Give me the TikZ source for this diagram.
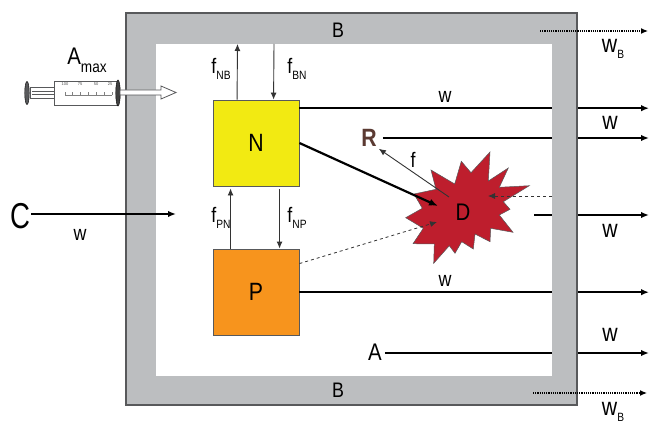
\documentclass[tikz,border=0pt]{standalone}
\usepackage{fontspec}
\setmainfont{Liberation Sans}
\usetikzlibrary{arrows.meta,positioning,calc}
\definecolor{wallgray}{HTML}{BCBEC0}
\definecolor{edgegray}{HTML}{58595B}
\definecolor{nyellow}{HTML}{F2EA12}
\definecolor{porange}{HTML}{F7941D}
\definecolor{dred}{HTML}{BE1E2D}
\definecolor{rbrown}{HTML}{5B3A32}
\newcommand{\sublabel}[2]{#1\raisebox{-6pt}{\fontsize{12}{12}\selectfont #2}}

\begin{document}
\begin{tikzpicture}[
  x=1pt, y=-1pt,
  pool/.style={rectangle, draw=edgegray, line width=0.9pt, minimum size=86pt, inner sep=0pt,
    font=\fontsize{25}{27}\selectfont},
  lab/.style={font=\fontsize{21}{23}\selectfont, inner sep=0pt, xscale=0.85, transform shape},
  flab/.style={lab, font=\fontsize{21}{23}\selectfont},
  wlab/.style={lab, font=\fontsize{21}{23}\selectfont},
  wbig/.style={lab, font=\fontsize{25}{27}\selectfont},
  flow/.style={draw=black, line width=1.8pt, -{Latex[length=8pt,width=6.5pt]}},
  plain/.style={draw=black, line width=1.8pt},
  thin flow/.style={draw=black!80, line width=0.9pt, -{Latex[length=7pt,width=6pt]}},
  dash flow/.style={draw=black!80, line width=0.8pt, dashed, -{Latex[length=7pt,width=6pt]}},
  dot flow/.style={draw=black, line width=1.2pt, densely dotted, -{Latex[length=7pt,width=6pt]}}
]
  \useasboundingbox (0,0) rectangle (650,425);

  % body
  \filldraw[draw=edgegray, line width=1.4pt, fill=wallgray] (126,13) rectangle (577,405);
  \fill[white] (156,44) rectangle (552,376);

  \node[pool, fill=nyellow] (N) at (256,143) {\scalebox{0.85}[1]{N}};
  \node[pool, fill=porange] (P) at (256,292) {\scalebox{0.85}[1]{P}};

  % burst
  \filldraw[draw=edgegray, line width=0.5pt, fill=dred]
    (490,152) -- (488.3,181) -- (508.3,168) -- (499.3,187.3) -- (529.3,185.7) -- (503.3,201.7)
    -- (510,209.3) -- (499.3,215) -- (513,232.3) -- (490.7,228.3) -- (490,241.7) -- (475,234)
    -- (473.3,249) -- (461.7,241.7) -- (455,253.3) -- (449.3,245.7) -- (433.7,263.3) -- (434.3,244)
    -- (413,243.7) -- (423.3,228.3) -- (405.7,217.7) -- (422.3,208.3) -- (414,194) -- (436,189.3)
    -- (431,170) -- (454.7,184) -- (461.3,161.3) -- (471,172.7) -- cycle;
  \node[lab, font=\fontsize{24}{26}\selectfont] (D) at (463,212) {D};

  \node[lab] (Bup) at (338,30) {B};
  \node[lab] (Blow) at (338,390) {B};
  \node[lab, font=\fontsize{36}{38}\selectfont, xscale=0.9] (C) at (20,216) {C};
  \node[lab, font=\fontsize{25}{27}\selectfont\bfseries, text=rbrown] (R) at (369,138) {R};
  \node[lab, font=\fontsize{24}{26}\selectfont] (A) at (375,352) {A};
  \node[lab, font=\fontsize{24}{26}\selectfont] (Amax) at (87,60)
    {A\raisebox{-8pt}{\fontsize{16}{16}\selectfont max}};

  \foreach \x/\y in {445/281,445/97,80/235}
    \node[wlab] at (\x,\y) {w};
  \foreach \x/\y in {610/123,610/231,610/335}
    \node[wbig] at (\x,\y) {w};
  \node[wbig] (wbup) at (613,49) {\sublabel{w}{B}};
  \node[wbig] (wbdn) at (613,412) {\sublabel{w}{B}};
  \node[flab] (fNB) at (221,69) {\sublabel{f}{NB}};
  \node[flab] (fBN) at (297,69) {\sublabel{f}{BN}};
  \node[flab] (fPN) at (221,218) {\sublabel{f}{PN}};
  \node[flab] (fNP) at (297,218) {\sublabel{f}{NP}};
  \node[flab] (f) at (413,160) {f};

  % free ends
  \coordinate (inU) at (237.5,44);
  \coordinate (inV) at (274,44);
  \coordinate (lN) at (552,108.2);
  \coordinate (lR) at (552,138);
  \coordinate (lD) at (552,215);
  \coordinate (lP) at (552,292.2);
  \coordinate (lA) at (552,353);
  \coordinate (dN) at (438,206);
  \coordinate (dP) at (437,222);

  \draw[thin flow] ($(N.north west)+(24.5,0)$) -- (inU);
  \draw[thin flow] (inV) -- ($(N.north west)+(61,0)$);
  \draw[thin flow] ($(P.north west)+(18,0)$) -- ($(N.south west)+(18,2)$);
  \draw[thin flow] ($(N.south west)+(67,3)$) -- ($(P.north west)+(67,0)$);

  \draw[plain] (N.east |- lN) -- (lN);
  \draw[plain] ($(R.east)+(6,0)$) -- (lR);
  \draw[plain] (534,215) -- (lD);
  \draw[plain] (P.east |- lP) -- (lP);
  \draw[plain] ($(A.east)+(3,1)$) -- (lA);
  \draw[draw=black, line width=2.2pt, -{Latex[length=9pt,width=7pt]}] (N.east) -- (dN);
  \draw[dash flow] ($(P.north east)+(0,15)$) -- (dP);
  \draw[thin flow] (449,197) -- ($(R.south east)+(2,2)$);
  \draw[dash flow] (552,196) -- (488,196);
  \draw[flow] ($(C.east)+(1,-2)$) -- (176,214);

  \foreach \y in {108.2,138,215,292.2,353}
    \draw[flow] (578,\y) -- (649,\y);
  \draw[dot flow] (540,31) -- (648,31);
  \draw[dot flow] (533,393) -- (647,393);

  % syringe
  \draw[edgegray, line width=0.7pt, fill=white] (30,87) rectangle (54,98);
  \draw[edgegray, line width=0.5pt] (32,91) -- (54,91) (32,94) -- (54,94);
  \filldraw[draw=black, fill=edgegray] (27,93) ellipse (2.3pt and 11.5pt);
  \draw[edgegray, line width=0.8pt, fill=white] (54,81) rectangle (117,105);
  \draw[gray, line width=0.5pt] (65,95) -- (112,95);
  \foreach \x in {65,72,80,88,96,104,112}
    \draw[gray, line width=0.5pt] (\x,95) -- (\x,92);
  \foreach \x/\t in {65/100,80/75,96/50,110/25}
    \node[inner sep=0pt, font=\fontsize{4}{4}\selectfont, text=black!70] at (\x,84.5) {\t};
  \filldraw[draw=black, fill=black!75] (118,93) ellipse (2.3pt and 13pt);
  \filldraw[draw=edgegray, line width=0.8pt, fill=white]
    (120,90) -- (161,90) -- (161,86) -- (176,92.5) -- (161,99) -- (161,95) -- (120,95) -- cycle;
\end{tikzpicture}
\end{document}
